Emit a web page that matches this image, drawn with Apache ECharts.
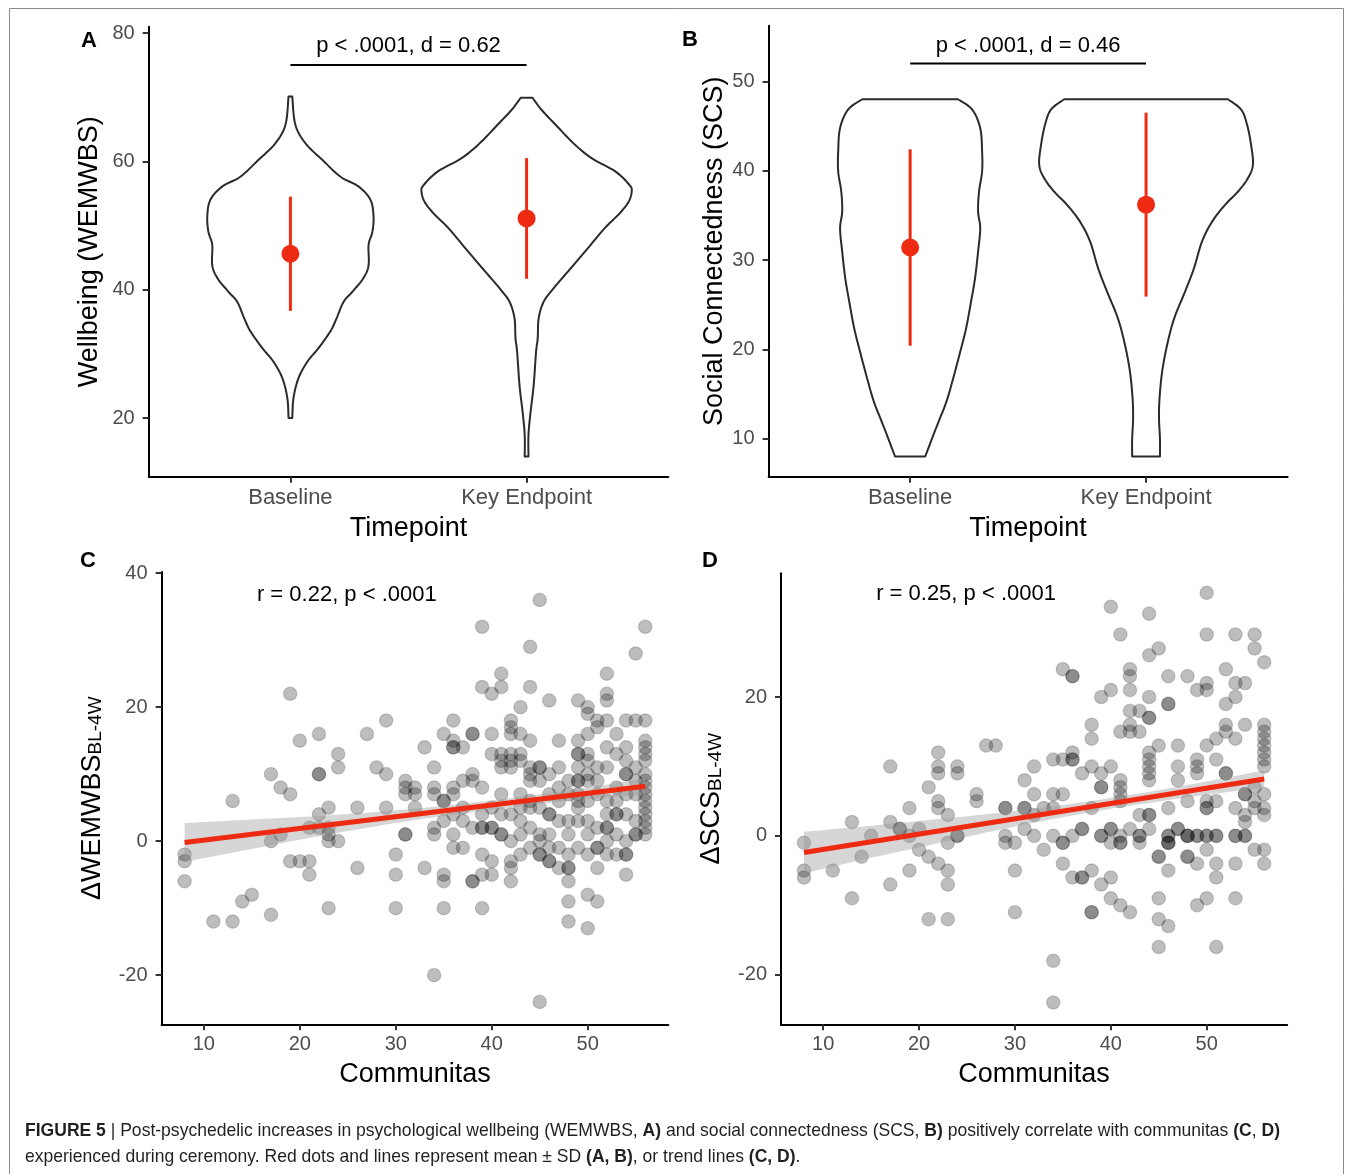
<!DOCTYPE html>
<html><head><meta charset="utf-8">
<script src="https://cdn.jsdelivr.net/npm/echarts@6/dist/echarts.min.js"></script>
<style>html,body{margin:0;padding:0;background:#fff}#c{width:1355px;height:1174px}</style>
</head><body><div id="c"></div>
<script>
// ---------------- DATA ----------------
const timepoints = ['Baseline', 'Key Endpoint'];

// Violin outlines: [value, half-width in category units], top to bottom
const violinA_baseline = [[70.1,0.008],[65.7,0.021],[62.8,0.064],[60.2,0.136],[57.6,0.212],[56.1,0.288],[54.0,0.339],[51.4,0.352],[49.0,0.347],[47.0,0.331],[43.8,0.331],[41.8,0.309],[39.7,0.263],[38.1,0.225],[35.5,0.195],[33.5,0.169],[30.9,0.119],[28.8,0.072],[26.2,0.034],[23.1,0.013],[20.0,0.008]];
const violinA_key = [[69.9,0.025],[68.0,0.064],[65.7,0.123],[62.8,0.199],[60.5,0.275],[58.4,0.377],[56.3,0.436],[55.3,0.445],[53.7,0.432],[51.9,0.394],[49.6,0.331],[46.4,0.258],[43.3,0.186],[40.2,0.114],[38.1,0.072],[35.5,0.051],[32.4,0.047],[30.3,0.040],[25.1,0.030],[21.0,0.017],[17.4,0.008],[14.0,0.008]];
const violinB_baseline = [[48.0,0.203],[46.85,0.263],[44.79,0.297],[42.17,0.305],[39.92,0.305],[37.67,0.292],[35.43,0.288],[33.55,0.297],[30.93,0.288],[27.94,0.275],[25.32,0.258],[22.32,0.237],[19.7,0.212],[16.7,0.182],[14.08,0.153],[11.46,0.114],[8.0,0.064]];
const violinB_key = [[48.0,0.347],[46.85,0.403],[45.17,0.428],[42.92,0.445],[40.67,0.453],[39.17,0.432],[37.67,0.390],[36.18,0.335],[34.3,0.280],[32.06,0.237],[29.06,0.203],[26.44,0.165],[23.44,0.119],[20.45,0.089],[17.45,0.068],[14.45,0.057],[12.21,0.055],[9.96,0.059],[8.0,0.059]];

// mean and SD per timepoint
const meanA = [45.6, 51.1];
const sdA = [8.9, 9.4];
const meanB = [31.4, 36.2];
const sdB = [11.0, 10.3];

// significance annotations
const sigA = { from: 1, to: 2, bar: 75.0, labelY: 78.0, text: 'p < .0001, d = 0.62' };
const sigB = { from: 1, to: 2, bar: 52.0, labelY: 54.0, text: 'p < .0001, d = 0.46' };

// ticks
const ticksA = [20, 40, 60, 80];
const ticksB = [10, 20, 30, 40, 50];
const ticksCy = [-20, 0, 20, 40];
const ticksDy = [-20, 0, 20];
const ticksX = [10, 20, 30, 40, 50];

// Scatter C: [Communitas, ΔWEMWBS]
const pointsC = [
[8,-2],[8,-3],[8,-6],[11,-12],[13,6],[13,-12],[14,-9],[15,-8],[17,10],[17,0],[17,-11],[18,8],[18,1],[19,22],[19,7],[19,-3],[20,15],[20,-3],[21,2],[21,-3],[21,-5],[22,16],[22,10],[22,10],[22,4],[22,2],[23,5],[23,2],[23,1],[23,0],[23,-10],[24,13],[24,11],[24,0],[26,5],[26,-4],[27,16],[28,11],[29,18],[29,10],[29,5],[30,-2],[30,-5],[30,-10],[31,9],[31,8],[31,7],[31,1],[31,1],[32,8],[32,7],[32,5],[33,14],[33,-4],
[34,11],[34,8],[34,7],[34,2],[34,1],[34,-20],
[35,16],[35,6],[35,6],[35,3],[35,-5],[35,-6],[35,-10],
[36,18],[36,15],[36,14],[36,14],[36,8],[36,7],[36,4],[36,1],[36,-1],
[37,14],[37,9],[37,5],[37,3],[37,-1],
[38,16],[38,16],[38,10],[38,9],[38,2],[38,-6],[38,-6],
[39,32],[39,23],[39,8],[39,4],[39,2],[39,2],[39,-2],[39,-5],[39,-10],
[40,22],[40,16],[40,13],[40,5],[40,2],[40,2],[40,-3],[40,-5],
[41,25],[41,23],[41,13],[41,12],[41,11],[41,7],[41,4],[41,1],[41,1],
[42,18],[42,17],[42,16],[42,13],[42,12],[42,11],[42,4],[42,0],[42,-3],[42,-4],[42,-6],
[43,20],[43,16],[43,13],[43,12],[43,7],[43,5],[43,3],[43,1],[43,-2],
[44,29],[44,23],[44,15],[44,11],[44,10],[44,9],[44,6],[44,5],[44,2],[44,-1],
[45,36],[45,11],[45,11],[45,9],[45,5],[45,1],[45,0],[45,-2],[45,-2],[45,-24],
[46,21],[46,10],[46,7],[46,4],[46,4],[46,1],[46,-1],[46,-3],[46,-3],
[47,15],[47,11],[47,8],[47,6],[47,3],[47,-1],[47,-4],
[48,9],[48,7],[48,3],[48,1],[48,-2],[48,-4],[48,-4],[48,-6],[48,-9],[48,-12],
[49,21],[49,15],[49,13],[49,13],[49,11],[49,9],[49,9],[49,7],[49,6],[49,5],[49,3],[49,-1],
[50,20],[50,19],[50,16],[50,13],[50,12],[50,10],[50,9],[50,6],[50,3],[50,1],[50,-2],[50,-8],[50,-13],
[51,18],[51,17],[51,11],[51,9],[51,7],[51,2],[51,-1],[51,-1],[51,-4],[51,-9],
[52,25],[52,22],[52,21],[52,18],[52,14],[52,11],[52,6],[52,4],[52,2],[52,2],[52,0],[52,-2],
[53,16],[53,13],[53,8],[53,6],[53,4],[53,4],[53,1],[53,-2],
[54,18],[54,14],[54,12],[54,10],[54,10],[54,7],[54,4],[54,0],[54,-2],[54,-2],[54,-5],
[55,28],[55,18],[55,11],[55,9],[55,7],[55,3],[55,1],[55,1],
[56,32],[56,18],[56,15],[56,14],[56,13],[56,12],[56,10],[56,9],[56,8],[56,7],[56,6],[56,5],[56,4],[56,3],[56,2],[56,1]
];

// Scatter D: [Communitas, ΔSCS]
const pointsD = [
[8,-1],[8,-5],[8,-6],[11,-5],[13,2],[13,-9],[14,-3],[15,0],[17,10],[17,2],[17,-7],[18,1],[18,1],[19,4],[19,0],[19,-5],[20,1],[20,-2],[21,7],[21,-3],[21,-12],[22,12],[22,10],[22,9],[22,5],[22,4],[22,-4],[23,3],[23,-1],[23,-5],[23,-7],[23,-12],[24,10],[24,9],[24,0],[24,0],[26,6],[26,5],[27,13],[28,13],[29,4],[29,4],[29,0],[29,-1],[30,-1],[30,-5],[30,-11],[31,8],[31,4],[31,4],[31,1],[32,10],[32,6],[32,3],[32,0],
[33,4],[33,-2],
[34,11],[34,6],[34,4],[34,0],[34,-18],[34,-24],
[35,24],[35,11],[35,6],[35,-1],[35,-1],[35,-4],
[36,23],[36,23],[36,12],[36,11],[36,11],[36,0],[36,-6],
[37,9],[37,1],[37,1],[37,-6],[37,-6],
[38,16],[38,14],[38,10],[38,4],[38,-5],[38,-11],[38,-11],
[39,20],[39,9],[39,7],[39,7],[39,0],[39,0],[39,-7],
[40,33],[40,21],[40,10],[40,1],[40,1],[40,-1],[40,-6],[40,-9],
[41,29],[41,15],[41,8],[41,7],[41,6],[41,5],[41,0],[41,-1],[41,-1],[41,-10],
[42,24],[42,23],[42,21],[42,18],[42,16],[42,15],[42,1],[42,-11],
[43,18],[43,15],[43,3],[43,0],[43,0],[43,-1],
[44,32],[44,26],[44,20],[44,17],[44,17],[44,12],[44,11],[44,10],[44,9],[44,8],[44,3],[44,3],[44,1],
[45,27],[45,13],[45,-3],[45,-3],[45,-9],[45,-12],[45,-16],
[46,23],[46,19],[46,19],[46,4],[46,0],[46,0],[46,-1],[46,-1],[46,-1],[46,-5],[46,-13],
[47,13],[47,10],[47,8],[47,1],[47,1],
[48,23],[48,5],[48,0],[48,0],[48,0],[48,-3],[48,-3],
[49,21],[49,11],[49,10],[49,9],[49,0],[49,0],[49,-4],[49,-10],
[50,35],[50,29],[50,22],[50,21],[50,13],[50,5],[50,4],[50,4],[50,0],[50,0],[50,-2],[50,-9],
[51,14],[51,11],[51,5],[51,0],[51,0],[51,-4],[51,-6],[51,-16],
[52,24],[52,19],[52,16],[52,15],[52,9],[52,9],
[53,29],[53,22],[53,20],[53,14],[53,4],[53,0],[53,0],[53,-4],[53,-9],
[54,22],[54,16],[54,6],[54,6],[54,3],[54,2],[54,0],[54,0],
[55,29],[55,27],[55,7],[55,5],[55,4],[55,-2],
[56,25],[56,16],[56,15],[56,14],[56,13],[56,12],[56,11],[56,10],[56,6],[56,4],[56,3],[56,-2],[56,-4]
];

// trend lines (endpoints) and CI half-widths
const trendC = [[8, -0.2], [56, 8.2]];
const trendD = [[8, -2.4], [56, 8.2]];
const ciX = [8, 14, 20, 26, 32, 38, 44, 50, 56];
const ciHalfC = [2.9, 2.3, 1.7, 1.2, 0.85, 0.7, 0.7, 0.85, 1.2];
const ciHalfD = [3.0, 2.4, 1.9, 1.4, 1.0, 0.8, 0.8, 0.95, 1.25];

const statC = { x: 24.9, y: 36.7, text: 'r = 0.22, p < .0001' };
const statD = { x: 24.9, y: 34.8, text: 'r = 0.25, p < .0001' };

// ---------------- STYLE ----------------
const FONT = "'Liberation Sans', Arial, Helvetica, sans-serif";
const RED = '#ee2b12';

function catmull(pts, n) {
  const out = [];
  for (let i = 0; i < pts.length - 1; i++) {
    const p0 = pts[Math.max(i - 1, 0)], p1 = pts[i], p2 = pts[i + 1], p3 = pts[Math.min(i + 2, pts.length - 1)];
    for (let k = 0; k < n; k++) {
      const t = k / n, t2 = t * t, t3 = t2 * t;
      const f = (a, b, c, d) => 0.5 * (2 * b + (-a + c) * t + (2 * a - 5 * b + 4 * c - d) * t2 + (-a + 3 * b - 3 * c + d) * t3);
      out.push([f(p0[0], p1[0], p2[0], p3[0]), f(p0[1], p1[1], p2[1], p3[1])]);
    }
  }
  out.push(pts[pts.length - 1]);
  return out;
}

function violinSeries(profiles, xi, yi) {
  return {
    type: 'custom', xAxisIndex: xi, yAxisIndex: yi, z: 2,
    data: profiles.map((p, i) => [i + 1, p[0][0]]),
    renderItem: function (params, api) {
      const i = params.dataIndex;
      const prof = profiles[i];
      const cx = i + 1;
      const right = catmull(prof.map(p => api.coord([cx + p[1], p[0]])), 8);
      const left = catmull(prof.slice().reverse().map(p => api.coord([cx - p[1], p[0]])), 8);
      return { type: 'polygon', shape: { points: right.concat(left) }, style: { fill: '#fff', stroke: '#2b2b2b', lineWidth: 2, lineJoin: 'round' } };
    }
  };
}

function meanSeries(means, sds, xi, yi) {
  return {
    type: 'custom', xAxisIndex: xi, yAxisIndex: yi, z: 5,
    data: means.map((m, i) => [i + 1, m, sds[i]]),
    renderItem: function (params, api) {
      const x = api.value(0), m = api.value(1), s = api.value(2);
      const top = api.coord([x, m + s]), bot = api.coord([x, m - s]), c = api.coord([x, m]);
      return { type: 'group', children: [
        { type: 'line', shape: { x1: top[0], y1: top[1], x2: bot[0], y2: bot[1] }, style: { stroke: RED, lineWidth: 3 } },
        { type: 'circle', shape: { cx: c[0], cy: c[1], r: 9 }, style: { fill: RED } }
      ] };
    }
  };
}

function sigSeries(sig, xi, yi) {
  return {
    type: 'custom', xAxisIndex: xi, yAxisIndex: yi, z: 5,
    data: [[sig.from, sig.bar]],
    renderItem: function (params, api) {
      const a = api.coord([sig.from, sig.bar]), b = api.coord([sig.to, sig.bar]);
      const t = api.coord([(sig.from + sig.to) / 2, sig.labelY]);
      return { type: 'group', children: [
        { type: 'line', shape: { x1: a[0], y1: a[1], x2: b[0], y2: b[1] }, style: { stroke: '#000', lineWidth: 2 } },
        { type: 'text', x: t[0], y: t[1], style: { text: sig.text, fontSize: 22, fontFamily: FONT, fill: '#000', align: 'center', verticalAlign: 'middle' } }
      ] };
    }
  };
}

function statSeries(st, xi, yi) {
  return {
    type: 'custom', xAxisIndex: xi, yAxisIndex: yi, z: 5,
    data: [[st.x, st.y]],
    renderItem: function (params, api) {
      const t = api.coord([st.x, st.y]);
      return { type: 'text', x: t[0], y: t[1], style: { text: st.text, fontSize: 22, fontFamily: FONT, fill: '#000', align: 'center', verticalAlign: 'middle' } };
    }
  };
}

function bandSeries(trend, half, xi, yi) {
  const lineAt = x => trend[0][1] + (trend[1][1] - trend[0][1]) * (x - trend[0][0]) / (trend[1][0] - trend[0][0]);
  return {
    type: 'custom', xAxisIndex: xi, yAxisIndex: yi, z: 3,
    data: [[ciX[0], lineAt(ciX[0])]],
    renderItem: function (params, api) {
      const up = catmull(ciX.map((x, i) => api.coord([x, lineAt(x) + half[i]])), 6);
      const lo = catmull(ciX.slice().reverse().map((x, k) => { const i = ciX.length - 1 - k; return api.coord([x, lineAt(x) - half[i]]); }), 6);
      return { type: 'polygon', shape: { points: up.concat(lo) }, style: { fill: 'rgba(153,153,153,0.4)' } };
    }
  };
}

function scatterSeries(pts, xi, yi) {
  return {
    type: 'scatter', xAxisIndex: xi, yAxisIndex: yi, z: 2,
    data: pts, symbolSize: 13.5,
    itemStyle: { color: 'rgba(0,0,0,0.26)', borderColor: 'rgba(0,0,0,0.16)', borderWidth: 1.2, opacity: 1 }
  };
}

function trendSeries(tr, xi, yi) {
  return {
    type: 'line', xAxisIndex: xi, yAxisIndex: yi, z: 4,
    data: tr, symbol: 'none', lineStyle: { color: RED, width: 5 }
  };
}

const axisLineStyle = { show: true, onZero: false, lineStyle: { color: '#000', width: 2 } };
function tickStyle(vals) { return { show: true, length: 6, customValues: vals, lineStyle: { color: '#333', width: 2 } }; }

function yAxis(grid, min, max, ticks, name, gap, rich) {
  return {
    type: 'value', gridIndex: grid, min: min, max: max,
    axisLine: axisLineStyle, axisTick: tickStyle(ticks), splitLine: { show: false },
    axisLabel: { customValues: ticks, fontSize: 20, color: '#4d4d4d', fontFamily: FONT, margin: 14 },
    name: name, nameLocation: 'middle', nameGap: gap, nameRotate: 90,
    nameTextStyle: rich ? { color: '#000', fontFamily: FONT, rich: rich } : { fontSize: 27, color: '#000', fontFamily: FONT }
  };
}
function xCatAxis(grid) {
  return {
    type: 'value', gridIndex: grid, min: 0.4, max: 2.6,
    axisLine: axisLineStyle, axisTick: tickStyle([1, 2]), splitLine: { show: false },
    axisLabel: { customValues: [1, 2], formatter: v => timepoints[Math.round(v) - 1], fontSize: 22, color: '#4d4d4d', fontFamily: FONT, margin: 10 },
    name: 'Timepoint', nameLocation: 'middle', nameGap: 38, nameTextStyle: { fontSize: 27, color: '#000', fontFamily: FONT }
  };
}
function xNumAxis(grid) {
  return {
    type: 'value', gridIndex: grid, min: 5.6, max: 58.4,
    axisLine: axisLineStyle, axisTick: tickStyle(ticksX), splitLine: { show: false },
    axisLabel: { customValues: ticksX, fontSize: 20, color: '#4d4d4d', fontFamily: FONT, margin: 10 },
    name: 'Communitas', nameLocation: 'middle', nameGap: 37, nameTextStyle: { fontSize: 27, color: '#000', fontFamily: FONT }
  };
}

const subRich = {
  m: { fontSize: 27, fontFamily: FONT, color: '#000', verticalAlign: 'bottom', lineHeight: 30 },
  s: { fontSize: 19, fontFamily: FONT, color: '#000', verticalAlign: 'bottom', lineHeight: 30 }
};

// caption
const capFont = "'Liberation Sans Narrow', 'Liberation Sans', Arial, sans-serif";
const capSize = 19;
const capLine1 = [['b', 'FIGURE 5'], ['n', ' | Post-psychedelic increases in psychological wellbeing (WEMWBS, '], ['b', 'A)'], ['n', ' and social connectedness (SCS, '], ['b', 'B)'], ['n', ' positively correlate with communitas '], ['b', '(C'], ['n', ', '], ['b', 'D)']];
const capLine2 = [['n', 'experienced during ceremony. Red dots and lines represent mean \u00b1 SD '], ['b', '(A, B)'], ['n', ', or trend lines '], ['b', '(C, D)'], ['n', '.']];
function measureSegs(segs) {
  const ctx = document.createElement('canvas').getContext('2d');
  let w = 0;
  segs.forEach(s => { ctx.font = (s[0] === 'b' ? 'bold ' : '') + capSize + 'px ' + capFont; w += ctx.measureText(s[1]).width; });
  return w;
}
function richStr(segs) { return segs.map(s => '{' + s[0] + '|' + s[1] + '}').join(''); }
const capScale = 1255 / measureSegs(capLine1);
const capRich = {
  n: { fontSize: capSize, fontFamily: capFont, fill: '#231f20', color: '#231f20' },
  b: { fontSize: capSize, fontFamily: capFont, fontWeight: 'bold', fill: '#231f20', color: '#231f20' }
};

const panelLetter = (t, x, y) => ({ type: 'text', x: x, y: y, z: 10, style: { text: t, fontSize: 22, fontWeight: 'bold', fontFamily: FONT, fill: '#000', align: 'center', verticalAlign: 'middle' } });

const option = {
  animation: false,
  backgroundColor: '#fff',
  grid: [
    { left: 148.7, top: 26.8, width: 519.6, height: 450 },
    { left: 768.6, top: 25.7, width: 519, height: 451.1 },
    { left: 161.6, top: 572.1, width: 506.7, height: 452.2 },
    { left: 781, top: 573.2, width: 506.2, height: 451.1 }
  ],
  xAxis: [xCatAxis(0), xCatAxis(1), xNumAxis(2), xNumAxis(3)],
  yAxis: [
    yAxis(0, 10.84, 80.97, ticksA, 'Wellbeing (WEMWBS)', 46),
    yAxis(1, 5.72, 56.24, ticksB, 'Social Connectedness (SCS)', 33),
    yAxis(2, -27.34, 40.16, ticksCy, '{m|\u0394WEMWBS}{s|BL-4W}', 56, subRich),
    yAxis(3, -27.14, 37.83, ticksDy, '{m|\u0394SCS}{s|BL-4W}', 56, subRich)
  ],
  series: [
    violinSeries([violinA_baseline, violinA_key], 0, 0),
    meanSeries(meanA, sdA, 0, 0),
    sigSeries(sigA, 0, 0),
    violinSeries([violinB_baseline, violinB_key], 1, 1),
    meanSeries(meanB, sdB, 1, 1),
    sigSeries(sigB, 1, 1),
    scatterSeries(pointsC, 2, 2),
    bandSeries(trendC, ciHalfC, 2, 2),
    trendSeries(trendC, 2, 2),
    statSeries(statC, 2, 2),
    scatterSeries(pointsD, 3, 3),
    bandSeries(trendD, ciHalfD, 3, 3),
    trendSeries(trendD, 3, 3),
    statSeries(statD, 3, 3)
  ],
  graphic: [
    { type: 'rect', z: 0, silent: true, shape: { x: 9.5, y: 8.5, width: 1334, height: 1180 }, style: { fill: 'none', stroke: '#8a8a8a', lineWidth: 1 } },
    panelLetter('A', 89, 41),
    panelLetter('B', 690, 40),
    panelLetter('C', 88, 561),
    panelLetter('D', 710, 561),
    { type: 'text', x: 25, y: 1131, scaleX: capScale, z: 10, style: { text: richStr(capLine1), rich: capRich, fontSize: capSize, fontFamily: capFont, fill: '#231f20', verticalAlign: 'middle' } },
    { type: 'text', x: 25, y: 1157, scaleX: capScale, z: 10, style: { text: richStr(capLine2), rich: capRich, fontSize: capSize, fontFamily: capFont, fill: '#231f20', verticalAlign: 'middle' } }
  ]
};

const chart = echarts.init(document.getElementById('c'), null, { renderer: 'canvas' });
chart.setOption(option);
</script>
</body></html>
